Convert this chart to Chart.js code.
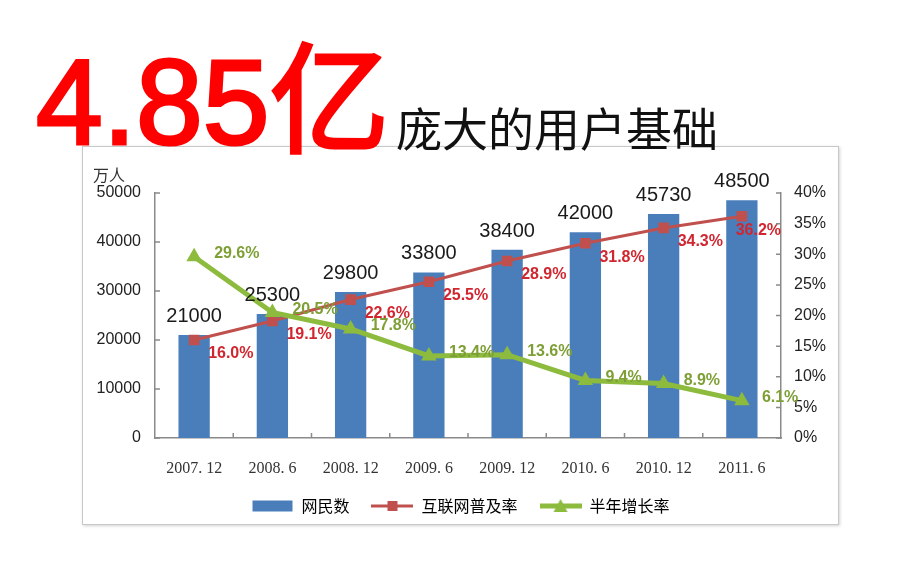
<!DOCTYPE html>
<html>
<head>
<meta charset="utf-8">
<script src="https://cdn.jsdelivr.net/npm/chart.js@4.4.0/dist/chart.umd.min.js"></script>
<style>
  html, body { margin: 0; padding: 0; background: #fff; }
  body { width: 920px; height: 576px; position: relative; overflow: hidden; }
  #panel {
    position: absolute; left: 82px; top: 146px; width: 757px; height: 379px;
    box-sizing: border-box; border: 1px solid #c8c8c8; background: #fff;
    box-shadow: 1px 1px 3px rgba(0, 0, 0, 0.18);
  }
  #wrap { position: absolute; left: 0; top: 0; width: 755px; height: 377px; }
  #big {
    position: absolute; left: 36px; top: 42px; z-index: 2; white-space: nowrap;
    font: 120px/1 "Liberation Sans", "Noto Sans CJK SC", sans-serif; color: #ff0000;
    -webkit-text-stroke: 3px #ff0000;
  }
  #sub {
    position: absolute; left: 396px; top: 103px; z-index: 2; white-space: nowrap;
    font: 46px/1 "Noto Sans CJK SC", sans-serif; color: #111;
  }
  #unit {
    position: absolute; left: 93px; top: 166px; z-index: 2;
    font: 16px/1 "Noto Sans CJK SC", sans-serif; color: #333;
  }
</style>
</head>
<body>
<div id="panel"><div id="wrap"><canvas id="netChart"></canvas></div></div>
<div id="big">4.85亿</div>
<div id="sub">庞大的用户基础</div>
<div id="unit">万人</div>

<script>
// Data
const categories = ['2007. 12', '2008. 6', '2008. 12', '2009. 6', '2009. 12', '2010. 6', '2010. 12', '2011. 6'];
const netizens = [21000, 25300, 29800, 33800, 38400, 42000, 45730, 48500];
const penetration = [16.0, 19.1, 22.6, 25.5, 28.9, 31.8, 34.3, 36.2];
const growth = [29.6, 20.5, 17.8, 13.4, 13.6, 9.4, 8.9, 6.1];
const seriesNames = ['网民数', '互联网普及率', '半年增长率'];

const BLUE = '#4a7ebb';
const RED = '#c0504d';
const GREEN = '#8dbb3e';
const AXIS = '#8a8a8a';

// little canvases used as legend symbols
function makeIcon(kind, color) {
  const c = document.createElement('canvas');
  c.width = 42; c.height = 16;
  const g = c.getContext('2d');
  g.fillStyle = color; g.strokeStyle = color;
  if (kind === 'bar') {
    g.fillRect(1, 2.5, 40, 11);
  } else if (kind === 'rect') {
    g.lineWidth = 3;
    g.beginPath(); g.moveTo(0, 8); g.lineTo(42, 8); g.stroke();
    g.fillRect(16, 3, 10, 10);
  } else {
    g.lineWidth = 5;
    g.beginPath(); g.moveTo(0, 8); g.lineTo(42, 8); g.stroke();
    g.beginPath(); g.moveTo(21, 1); g.lineTo(28, 14); g.lineTo(14, 14); g.closePath(); g.fill();
  }
  return c;
}

// value labels next to bars and points
const valueLabels = {
  id: 'valueLabels',
  afterDatasetsDraw(chart) {
    const ctx = chart.ctx;
    const area = chart.chartArea;
    ctx.save();
    chart.data.datasets.forEach(function(ds, i) {
      const meta = chart.getDatasetMeta(i);
      meta.data.forEach(function(el, j) {
        const v = ds.data[j];
        if (ds.type === 'bar') {
          ctx.font = '20px "Liberation Sans", Arial, sans-serif';
          ctx.fillStyle = '#1a1a1a';
          ctx.textAlign = 'center';
          ctx.textBaseline = 'alphabetic';
          ctx.fillText(v, el.x, el.y - 13);
        } else {
          const text = v.toFixed(1) + '%';
          ctx.font = 'bold 16px "Liberation Sans", Arial, sans-serif';
          ctx.fillStyle = ds.labelColor;
          ctx.textAlign = 'left';
          ctx.textBaseline = 'middle';
          const w = ctx.measureText(text).width;
          let x = el.x + ds.labelDx;
          if (ds.labelClamp) x = Math.min(x, area.right - w);
          ctx.fillText(text, x, el.y + ds.labelDy);
        }
      });
    });
    ctx.restore();
  }
};

// short tick marks pointing into the plot
const innerTicks = {
  id: 'innerTicks',
  afterDraw(chart) {
    const { ctx, chartArea, scales } = chart;
    ctx.save();
    ctx.strokeStyle = AXIS;
    ctx.lineWidth = 1.5;
    ctx.beginPath();
    scales.y.ticks.forEach(function(t, i) {
      const y = scales.y.getPixelForTick(i);
      ctx.moveTo(chartArea.left, y); ctx.lineTo(chartArea.left + 5, y);
    });
    scales.y1.ticks.forEach(function(t, i) {
      const y = scales.y1.getPixelForTick(i);
      ctx.moveTo(chartArea.right, y); ctx.lineTo(chartArea.right - 5, y);
    });
    for (let i = 1; i < categories.length; i++) {
      const x = (scales.x.getPixelForValue(i - 1) + scales.x.getPixelForValue(i)) / 2;
      ctx.moveTo(x, chartArea.bottom); ctx.lineTo(x, chartArea.bottom - 5);
    }
    ctx.stroke();
    ctx.restore();
  }
};

const tickFont = { family: '"Liberation Sans", Arial, sans-serif', size: 16 };
const icons = [makeIcon('bar', BLUE), makeIcon('rect', RED), makeIcon('tri', GREEN)];

new Chart(document.getElementById('netChart'), {
  data: {
    labels: categories,
    datasets: [
      {
        type: 'bar', label: seriesNames[0], data: netizens, yAxisID: 'y',
        backgroundColor: BLUE, barPercentage: 0.4, categoryPercentage: 1, order: 3
      },
      {
        type: 'line', label: seriesNames[1], data: penetration, yAxisID: 'y1',
        borderColor: RED, backgroundColor: RED, borderWidth: 3,
        pointStyle: 'rect', pointRadius: 7.5, pointBorderWidth: 0, tension: 0, order: 2,
        labelColor: '#d1262f', labelDx: 14, labelDy: 14, labelClamp: true
      },
      {
        type: 'line', label: seriesNames[2], data: growth, yAxisID: 'y1',
        borderColor: GREEN, backgroundColor: GREEN, borderWidth: 5,
        pointStyle: 'triangle', pointRadius: 9, pointBorderWidth: 0, tension: 0, order: 1,
        labelColor: '#7e9f35', labelDx: 20, labelDy: -3, labelClamp: false
      }
    ]
  },
  options: {
    responsive: true,
    maintainAspectRatio: false,
    animation: false,
    layout: { padding: { top: 46, left: 0, right: 0, bottom: 0 } },
    plugins: {
      tooltip: { enabled: false },
      legend: {
        position: 'bottom',
        labels: {
          usePointStyle: true,
          pointStyleWidth: 42,
          padding: 22,
          color: '#333',
          font: { family: '"Noto Sans CJK SC", sans-serif', size: 16 },
          generateLabels: function(chart) {
            return seriesNames.map(function(name, i) {
              return { text: name, pointStyle: icons[i], datasetIndex: i, hidden: false, lineWidth: 0 };
            });
          }
        }
      }
    },
    scales: {
      x: {
        grid: { display: false, drawTicks: false },
        border: { display: true, color: AXIS, width: 1.5 },
        ticks: { color: '#333', padding: 21, font: { family: '"Liberation Serif", serif', size: 16 } },
        afterFit: function(scale) { scale.height = 38; }
      },
      y: {
        position: 'left', min: 0, max: 50000,
        grid: { display: false, drawTicks: false },
        border: { display: true, color: AXIS, width: 1.5 },
        ticks: {
          stepSize: 10000, color: '#222', padding: 14, font: tickFont,
          callback: function(v) { return String(v); }
        },
        afterFit: function(scale) { scale.width = 72; }
      },
      y1: {
        position: 'right', min: 0, max: 40,
        grid: { display: false, drawTicks: false },
        border: { display: true, color: AXIS, width: 1.5 },
        ticks: {
          stepSize: 5, color: '#222', padding: 13, font: tickFont,
          callback: function(v) { return v + '%'; }
        },
        afterFit: function(scale) { scale.width = 57; }
      }
    }
  },
  plugins: [valueLabels, innerTicks]
});
</script>
</body>
</html>
